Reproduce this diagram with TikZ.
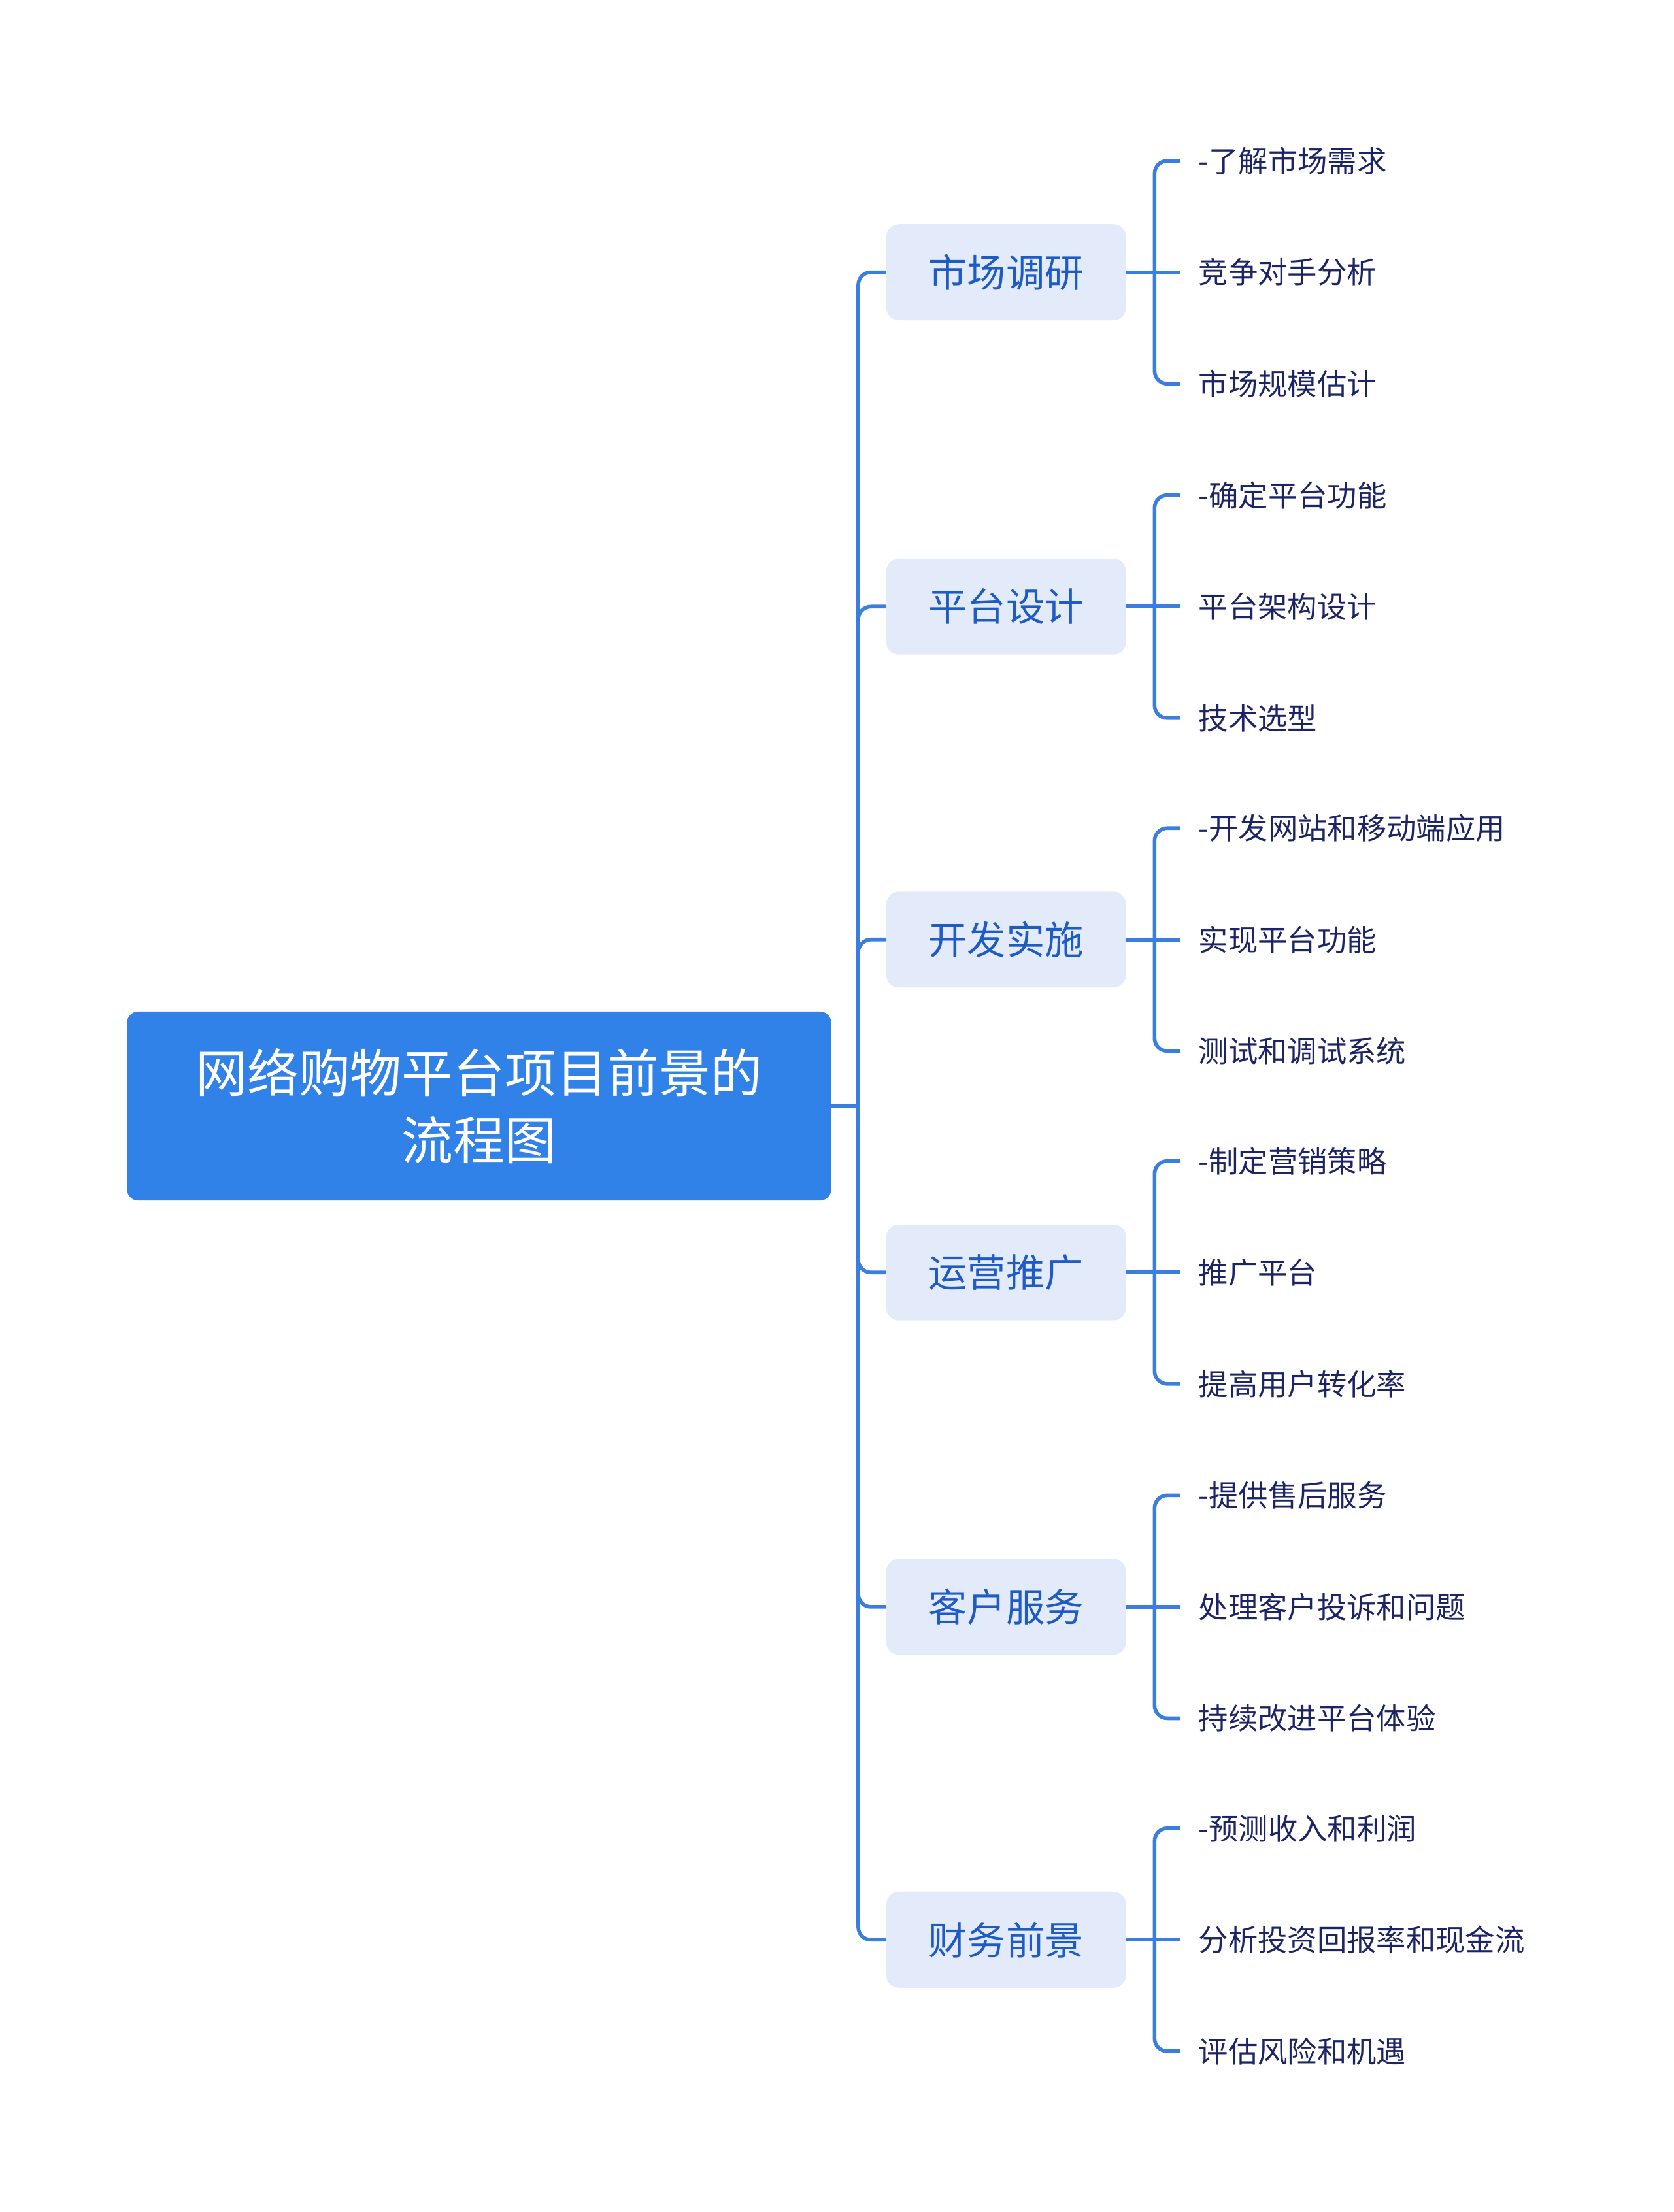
\documentclass[tikz,border=0pt]{standalone}
\usepackage{fontspec}
\setmainfont{Noto Sans CJK SC}
\usetikzlibrary{positioning}
\definecolor{rootblue}{HTML}{3182E8}
\definecolor{linkblue}{HTML}{3A7FE0}
\definecolor{topicfill}{HTML}{E3EBFB}
\definecolor{topictext}{HTML}{1F5BC4}
\definecolor{leaftext}{HTML}{1C2466}

\begin{document}
\begin{tikzpicture}[x=1pt, y=1pt,
  root/.style={rectangle, rounded corners=8pt, fill=rootblue, text=white, minimum width=499pt, minimum height=134pt, align=center, font=\fontsize{36.5}{48}\selectfont},
  topic/.style={rectangle, rounded corners=9pt, fill=topicfill, text=topictext, minimum width=170pt, minimum height=68pt, font=\fontsize{27.5}{33}\selectfont},
  leaf/.style={inner xsep=13pt, inner ysep=2pt, text=leaftext, font=\fontsize{21}{25}\selectfont},
  link/.style={draw=linkblue, line width=2.6pt, rounded corners=9pt}]
        \useasboundingbox (0,0) rectangle (1186,-1568);

        % root and main topics
        \node[root] (root) at (339.5,-784) {网络购物平台项目前景的\\流程图};
        \node[topic] (market) at (713,-193) {市场调研};
        \node[topic] (design) at (713,-430) {平台设计};
        \node[topic] (dev) at (713,-666) {开发实施};
        \node[topic] (ops) at (713,-902) {运营推广};
        \node[topic] (service) at (713,-1139) {客户服务};
        \node[topic] (finance) at (713,-1375) {财务前景};

        % sub topics
        \node[leaf, right=38pt of market.east, yshift=79pt] (market1) {-了解市场需求};
        \node[leaf, right=38pt of market.east] (market2) {竞争对手分析};
        \node[leaf, right=38pt of market.east, yshift=-79pt] (market3) {市场规模估计};
        \node[leaf, right=38pt of design.east, yshift=79pt] (design1) {-确定平台功能};
        \node[leaf, right=38pt of design.east] (design2) {平台架构设计};
        \node[leaf, right=38pt of design.east, yshift=-79pt] (design3) {技术选型};
        \node[leaf, right=38pt of dev.east, yshift=79pt] (dev1) {-开发网站和移动端应用};
        \node[leaf, right=38pt of dev.east] (dev2) {实现平台功能};
        \node[leaf, right=38pt of dev.east, yshift=-79pt] (dev3) {测试和调试系统};
        \node[leaf, right=38pt of ops.east, yshift=79pt] (ops1) {-制定营销策略};
        \node[leaf, right=38pt of ops.east] (ops2) {推广平台};
        \node[leaf, right=38pt of ops.east, yshift=-79pt] (ops3) {提高用户转化率};
        \node[leaf, right=38pt of service.east, yshift=79pt] (service1) {-提供售后服务};
        \node[leaf, right=38pt of service.east] (service2) {处理客户投诉和问题};
        \node[leaf, right=38pt of service.east, yshift=-79pt] (service3) {持续改进平台体验};
        \node[leaf, right=38pt of finance.east, yshift=79pt] (finance1) {-预测收入和利润};
        \node[leaf, right=38pt of finance.east] (finance2) {分析投资回报率和现金流};
        \node[leaf, right=38pt of finance.east, yshift=-79pt] (finance3) {评估风险和机遇};

        % trunk
        \coordinate (trunk) at ([xshift=19pt]root.east);
        \draw[link] (root.east) -- (trunk);
        \draw[link] (trunk) |- (market.west);
        \draw[link] (trunk) |- (design.west);
        \draw[link] (trunk) |- (dev.west);
        \draw[link] (trunk) |- (ops.west);
        \draw[link] (trunk) |- (service.west);
        \draw[link] (trunk) |- (finance.west);

        % branches
        \coordinate (marketj) at ([xshift=20pt]market.east);
        \draw[link] (market.east) -- (market2.west);
        \draw[link] (marketj) |- (market1.west);
        \draw[link] (marketj) |- (market3.west);
        \coordinate (designj) at ([xshift=20pt]design.east);
        \draw[link] (design.east) -- (design2.west);
        \draw[link] (designj) |- (design1.west);
        \draw[link] (designj) |- (design3.west);
        \coordinate (devj) at ([xshift=20pt]dev.east);
        \draw[link] (dev.east) -- (dev2.west);
        \draw[link] (devj) |- (dev1.west);
        \draw[link] (devj) |- (dev3.west);
        \coordinate (opsj) at ([xshift=20pt]ops.east);
        \draw[link] (ops.east) -- (ops2.west);
        \draw[link] (opsj) |- (ops1.west);
        \draw[link] (opsj) |- (ops3.west);
        \coordinate (servicej) at ([xshift=20pt]service.east);
        \draw[link] (service.east) -- (service2.west);
        \draw[link] (servicej) |- (service1.west);
        \draw[link] (servicej) |- (service3.west);
        \coordinate (financej) at ([xshift=20pt]finance.east);
        \draw[link] (finance.east) -- (finance2.west);
        \draw[link] (financej) |- (finance1.west);
        \draw[link] (financej) |- (finance3.west);
    \end{tikzpicture}
\end{document}
